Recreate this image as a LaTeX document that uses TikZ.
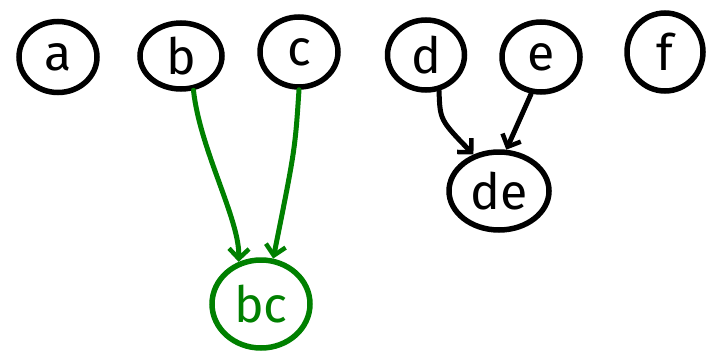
\documentclass[tikz,border=0pt]{standalone}
\usepackage{fontspec}
\setmainfont{Fira Sans}
\usetikzlibrary{shapes.geometric,arrows.meta}
\begin{document}
\begin{tikzpicture}[x=1pt,y=-1pt,
  vert/.style={draw=#1,text=#1,ellipse,line width=5.5pt,inner sep=0pt,font=\fontsize{50}{50}\selectfont},
  edge/.style={draw=#1,line width=5pt,line cap=round,-{Straight Barb[length=10pt,width=20pt,line width=4.5pt]}},
]
\useasboundingbox (0,0) rectangle (708,351);
\node[vert=black,minimum width=78pt,minimum height=71pt] (a) at (58,57) {a};
\node[vert=black,minimum width=82pt,minimum height=66pt] (b) at (181,56) {b};
\node[vert=black,minimum width=78pt,minimum height=70pt] (c) at (299,52) {c};
\node[vert=black,minimum width=77pt,minimum height=70pt] (d) at (426,55) {d};
\node[vert=black,minimum width=78pt,minimum height=70pt] (e) at (541,57) {e};
\node[vert=black,minimum width=76pt,minimum height=78pt] (f) at (665,52) {f};
\node[vert=black,minimum width=100pt,minimum height=78pt] (de) at (499,191) {de};
\node[vert=green!50!black,minimum width=98pt,minimum height=88pt] (bc) at (261,304) {bc};
\draw[edge=green!50!black] (b.290) .. controls (200,150) and (240,220) .. (bc.118);
\draw[edge=green!50!black] (c.270) .. controls (295,150) .. (bc.75);
\draw[edge=black] (d.290) .. controls (440,120) .. (de.125);
\draw[edge=black] (e.255) -- (de.80);
\end{tikzpicture}
\end{document}
